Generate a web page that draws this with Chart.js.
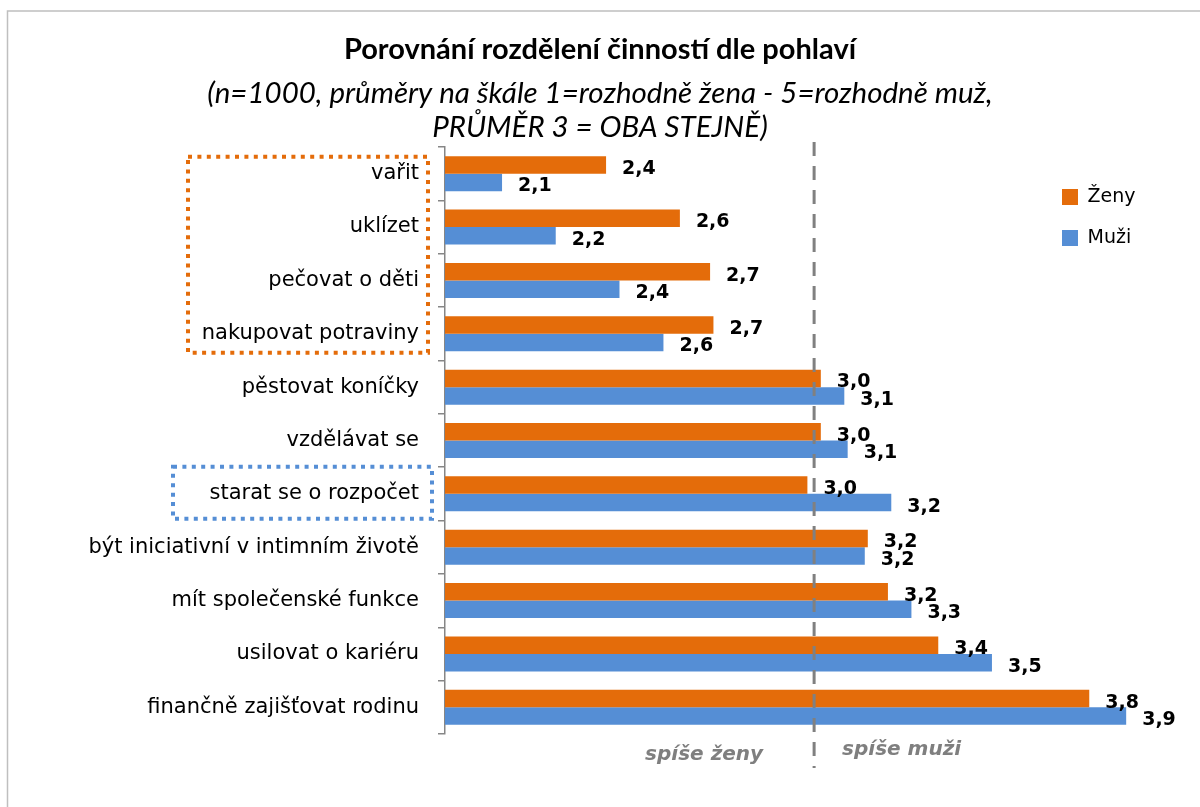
<!DOCTYPE html>
<html>
<head>
<meta charset="utf-8">
<script src="https://cdn.jsdelivr.net/npm/chart.js@4.4.1/dist/chart.umd.min.js"></script>
<style>
  html, body { margin: 0; padding: 0; background: #ffffff; }
  #wrap { position: relative; width: 1200px; height: 807px; }
</style>
</head>
<body>
<div id="wrap"><canvas id="c" width="1200" height="807"></canvas></div>
<script>
const categories = [
  'vařit',
  'uklízet',
  'pečovat o děti',
  'nakupovat potraviny',
  'pěstovat koníčky',
  'vzdělávat se',
  'starat se o rozpočet',
  'být iniciativní v intimním životě',
  'mít společenské funkce',
  'usilovat o kariéru',
  'finančně zajišťovat rodinu'
];
const seriesNames = ['Ženy', 'Muži'];
const zenyValues = [2.38, 2.60, 2.69, 2.70, 3.02, 3.02, 2.98, 3.16, 3.22, 3.37, 3.82];
const muziValues = [2.07, 2.23, 2.42, 2.551, 3.09, 3.10, 3.23, 3.151, 3.29, 3.53, 3.93];
const titleText = 'Porovnání rozdělení činností dle pohlaví';
const subtitleLines = ['(n=1000, průměry na škále 1=rozhodně žena - 5=rozhodně muž,', 'PRŮMĚR 3 = OBA STEJNĚ)'];
const axisMin = 1.9;
const axisMax = 4.15;
const midValue = 3.0;
const sideLabels = ['spíše ženy', 'spíše muži'];
const orangeBoxRange = [0, 3];
const blueBoxRange = [6, 6];

const ORANGE = '#E46C0A';
const BLUE = '#558ED5';

function fmt(v) { return v.toFixed(1).replace('.', ','); }

const decorPlugin = {
  id: 'decor',
  afterLayout(chart) {
    const lg = chart.legend;
    if (lg) {
      lg.left = 1040;
      lg.top = 165.5;
    }
  },
  beforeDraw(chart) {
    const ctx = chart.ctx;
    ctx.save();
    ctx.strokeStyle = '#BFBFBF';
    ctx.lineWidth = 1.5;
    ctx.strokeRect(7.5, 11, 1300, 900);
    ctx.restore();
  },
  afterDatasetsDraw(chart) {
    const ctx = chart.ctx;
    const xs = chart.scales.x;
    const ys = chart.scales.y;
    const area = chart.chartArea;
    const xm = xs.getPixelForValue(midValue);

    // dashed divider line
    ctx.save();
    ctx.strokeStyle = '#808080';
    ctx.lineWidth = 3;
    ctx.setLineDash([14, 10]);
    ctx.beginPath();
    ctx.moveTo(xm, area.top - 5);
    ctx.lineTo(xm, area.bottom + 34);
    ctx.stroke();
    ctx.restore();

    // data labels
    ctx.save();
    ctx.font = 'bold 19px "DejaVu Sans"';
    ctx.fillStyle = '#000000';
    ctx.textAlign = 'left';
    ctx.textBaseline = 'middle';
    chart.data.datasets.forEach((ds, di) => {
      const meta = chart.getDatasetMeta(di);
      meta.data.forEach((bar, i) => {
        ctx.fillText(fmt(ds.data[i]), bar.x + 16, bar.y + 4);
      });
    });
    ctx.restore();

    // side labels
    ctx.save();
    ctx.font = 'italic bold 20px "DejaVu Sans"';
    ctx.fillStyle = '#7F7F7F';
    ctx.textBaseline = 'middle';
    ctx.textAlign = 'right';
    ctx.fillText(sideLabels[0], xm - 51, area.bottom + 21);
    ctx.textAlign = 'left';
    ctx.fillText(sideLabels[1], xm + 28, area.bottom + 16);
    ctx.restore();

    // dotted highlight boxes
    ctx.save();
    ctx.lineWidth = 4;
    ctx.setLineDash([4, 5.4]);
    const t0 = ys.getPixelForValue(orangeBoxRange[0]) - 17;
    const b0 = ys.getPixelForValue(orangeBoxRange[1]) + 19;
    ctx.strokeStyle = ORANGE;
    ctx.strokeRect(188, t0, area.left - 17 - 188, b0 - t0);
    const t1 = ys.getPixelForValue(blueBoxRange[0]) - 27;
    const b1 = ys.getPixelForValue(blueBoxRange[1]) + 25;
    ctx.strokeStyle = BLUE;
    ctx.strokeRect(173, t1, area.left - 13 - 173, b1 - t1);
    ctx.restore();
  }
};

new Chart(document.getElementById('c'), {
  type: 'bar',
  data: {
    labels: categories,
    datasets: [
      { label: seriesNames[0], data: zenyValues, backgroundColor: ORANGE, borderWidth: 0 },
      { label: seriesNames[1], data: muziValues, backgroundColor: BLUE, borderWidth: 0 }
    ]
  },
  options: {
    indexAxis: 'y',
    responsive: false,
    animation: false,
    devicePixelRatio: 1,
    layout: { padding: { left: 0, right: 0, top: 12, bottom: 73 } },
    datasets: { bar: { categoryPercentage: 0.656, barPercentage: 1.0 } },
    scales: {
      x: { display: false, min: axisMin, max: axisMax },
      y: {
        afterFit(scale) { scale.width = 445; },
        grid: { display: true, drawOnChartArea: false, drawTicks: true, tickLength: 7, offset: true, color: '#868686', lineWidth: 1.5 },
        border: { display: true, color: '#868686', width: 1.5 },
        ticks: { color: '#000000', padding: 19, font: { family: '"DejaVu Sans"', size: 21 } }
      }
    },
    plugins: {
      title: {
        display: true,
        text: titleText,
        color: '#000000',
        font: { family: 'Lato', size: 29, weight: 'bold', lineHeight: 1.2 },
        padding: { top: 20.6, bottom: 0 }
      },
      subtitle: {
        display: true,
        text: subtitleLines,
        color: '#000000',
        font: { family: 'Lato', size: 29.5, style: 'italic', weight: 'normal', lineHeight: 1.1525 },
        padding: { top: 8.6, bottom: 3 }
      },
      legend: {
        display: true,
        position: 'chartArea',
        align: 'start',
        labels: {
          boxWidth: 16,
          boxHeight: 16,
          padding: 22,
          color: '#000000',
          font: { family: '"DejaVu Sans"', size: 19 }
        }
      },
      tooltip: { enabled: false }
    }
  },
  plugins: [decorPlugin]
});
</script>
</body>
</html>
